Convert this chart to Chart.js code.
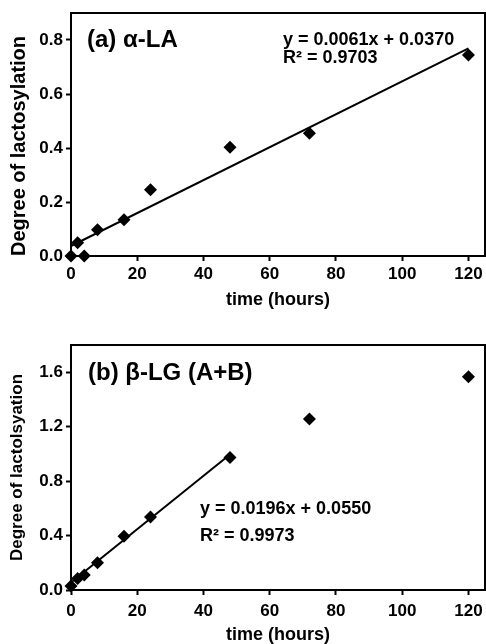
<!DOCTYPE html>
<html>
<head>
<meta charset="utf-8">
<script src="https://cdn.jsdelivr.net/npm/chart.js@4/dist/chart.umd.min.js"></script>
<style>
  html, body { margin: 0; padding: 0; background: #fff; overflow: hidden; }
  .wrap { position: relative; width: 486px; }
  canvas { display: block; }
</style>
</head>
<body>
<div class="wrap" style="height:320px"><canvas id="cA"></canvas></div>
<div class="wrap" style="height:324px"><canvas id="cB"></canvas></div>
<script>
// ---- data ----
const timesA = [0, 2, 4, 8, 16, 24, 48, 72, 120];
const degreeA = [0, 0.049, 0, 0.097, 0.134, 0.245, 0.403, 0.455, 0.744];
const fitA = { slope: 0.0061, intercept: 0.0370, r2: 0.9703 };
const fitRangeA = [0, 120];

const timesB = [0, 2, 4, 8, 16, 24, 48, 72, 120];
const degreeB = [0.03, 0.085, 0.11, 0.2, 0.395, 0.537, 0.973, 1.256, 1.567];
const fitB = { slope: 0.0196, intercept: 0.0550, r2: 0.9973 };
const fitRangeB = [0, 48];

const xTicks = [0, 20, 40, 60, 80, 100, 120];
const yTicksA = [0, 0.2, 0.4, 0.6, 0.8];
const yTicksB = [0, 0.4, 0.8, 1.2, 1.6];

const FONT = "'Liberation Sans', Arial, Helvetica, sans-serif";

function makeChart(id, cfg) {
  const points = cfg.times.map((t, i) => ({ x: t, y: cfg.values[i] }));
  const line = cfg.fitRange.map(x => ({ x: x, y: cfg.fit.slope * x + cfg.fit.intercept }));
  const framePlugin = {
    id: 'frame' + id,
    afterDatasetsDraw(chart) {
      const { ctx, chartArea: a } = chart;
      ctx.save();
      ctx.strokeStyle = '#000';
      ctx.lineWidth = 2;
      ctx.strokeRect(a.left, a.top, a.right - a.left, a.bottom - a.top);
      ctx.fillStyle = '#000';
      ctx.textBaseline = 'middle';
      ctx.textAlign = 'left';
      ctx.font = "bold 24px " + FONT;
      ctx.fillText(cfg.label, cfg.labelPos[0], cfg.labelPos[1]);
      ctx.font = "bold 18px " + FONT;
      const f = cfg.fit;
      ctx.fillText('y = ' + f.slope.toFixed(4) + 'x + ' + f.intercept.toFixed(4), cfg.eqPos[0], cfg.eqPos[1]);
      ctx.fillText('R\u00B2 = ' + f.r2.toFixed(4), cfg.eqPos[0], cfg.eqPos[2]);
      ctx.restore();
    }
  };
  return new Chart(document.getElementById(id), {
    type: 'scatter',
    data: {
      datasets: [
        {
          data: points,
          showLine: false,
          pointStyle: 'rectRot',
          pointRadius: 6.5,
          pointHoverRadius: 6.5,
          backgroundColor: '#000',
          borderColor: '#000',
          borderWidth: 0,
          clip: false
        },
        {
          data: line,
          showLine: true,
          pointRadius: 0,
          borderColor: '#000',
          borderWidth: 2,
          fill: false,
          clip: false
        }
      ]
    },
    options: {
      responsive: true,
      maintainAspectRatio: false,
      animation: false,
      events: [],
      layout: { autoPadding: false, padding: { left: 0, right: 1, top: cfg.padTop, bottom: 0 } },
      plugins: { legend: { display: false }, tooltip: { enabled: false } },
      scales: {
        x: {
          type: 'linear',
          min: 0, max: 125,
          afterBuildTicks: s => { s.ticks = xTicks.map(v => ({ value: v })); },
          afterFit: s => { s.height = cfg.xHeight; s.paddingLeft = 0; s.paddingRight = 0; },
          border: { display: false },
          grid: { display: true, drawOnChartArea: false, drawTicks: true, tickLength: 5, tickWidth: 2, tickColor: '#000' },
          ticks: { color: '#000', font: { family: FONT, size: 17, weight: 'bold' }, padding: cfg.xTickPad, maxRotation: 0 },
          title: { display: true, text: 'time (hours)', color: '#000', font: { family: FONT, size: 18, weight: 'bold', lineHeight: cfg.xTitleLH }, padding: { top: 0, bottom: cfg.xTitlePad } }
        },
        y: {
          type: 'linear',
          min: 0, max: cfg.yMax,
          afterBuildTicks: s => { s.ticks = cfg.yTicks.map(v => ({ value: v })); },
          afterFit: s => { s.width = 71; s.paddingTop = 0; s.paddingBottom = 0; },
          border: { display: false },
          grid: { display: true, drawOnChartArea: false, drawTicks: true, tickLength: 5, tickWidth: 2, tickColor: '#000' },
          ticks: { color: '#000', font: { family: FONT, size: 17, weight: 'bold' }, padding: 3, callback: v => Number(v).toFixed(1) },
          title: { display: true, text: cfg.yTitle, align: cfg.yTitleAlign, color: '#000', font: { family: FONT, size: cfg.yTitleSize, weight: 'bold' }, padding: { top: 7, bottom: 0 } }
        }
      }
    },
    plugins: [framePlugin]
  });
}

makeChart('cA', {
  times: timesA, values: degreeA, fit: fitA, fitRange: fitRangeA,
  yTicks: yTicksA, yMax: 0.9, yTitle: 'Degree of lactosylation', yTitleSize: 20, yTitleAlign: 'start',
  label: '(a) \u03B1-LA', labelPos: [87, 40], eqPos: [283, 40, 58],
  padTop: 13, xHeight: 64, xTitlePad: 9, xTitleLH: 1.2, xTickPad: 3
});
makeChart('cB', {
  times: timesB, values: degreeB, fit: fitB, fitRange: fitRangeB,
  yTicks: yTicksB, yMax: 1.8, yTitle: 'Degree of lactolsyation', yTitleSize: 17, yTitleAlign: 'center',
  label: '(b) \u03B2-LG (A+B)', labelPos: [88, 53], eqPos: [200, 189, 216],
  padTop: 25, xHeight: 54, xTitlePad: 0, xTitleLH: 1.0, xTickPad: 6
});
</script>
</body>
</html>
